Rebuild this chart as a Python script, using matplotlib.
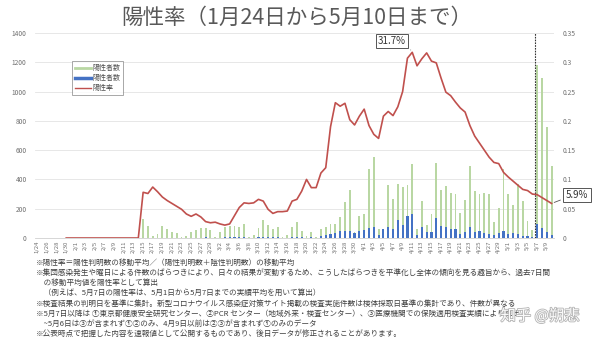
import numpy as np
import matplotlib
matplotlib.use("Agg")
import matplotlib.pyplot as plt
from matplotlib.lines import Line2D
import matplotlib.patheffects as pe
import datetime as dt

plt.rcParams['font.family'] = ['Noto Sans CJK JP', 'DejaVu Sans']

start = dt.date(2020, 1, 24)
dates = [start + dt.timedelta(days=i) for i in range(108)]
date_labels = [f"{d.month}/{d.day}" for d in dates]

# tests (green) - counts per day
tests = [0]*22 + [
    130, 80, 12, 28, 84, 62, 38, 34, 5, 16,      # 22-31
    43, 52, 66, 68, 57, 5, 38, 75, 84, 79,       # 32-41
    72, 96, 5, 23, 68, 125, 89, 61, 72, 5,       # 42-51
    23, 72, 107, 50, 12, 43, 5, 60, 75, 95,      # 52-61
    93, 145, 245, 330, 41, 148, 164, 471, 553, 64,   # 62-71
    64, 359, 268, 369, 346, 362, 503, 61, 250, 91,   # 72-81
    164, 512, 330, 357, 307, 303, 171, 262, 494, 318,  # 82-91
    303, 310, 301, 107, 207, 470, 300, 227, 370, 250,  # 92-101
    113, 55, 1183, 1093, 755, 489]                   # 102-107

# positives (blue)
positives = [0]*22 + [
    3, 2, 1, 1, 3, 2, 1, 2, 0, 1,
    2, 3, 3, 4, 3, 0, 2, 4, 5, 4,
    4, 6, 0, 2, 5, 8, 6, 4, 5, 0,
    2, 6, 10, 6, 2, 5, 0, 16, 20, 27,
    34, 50, 50, 50, 33, 50, 57, 68, 75, 20,
    61, 75, 61, 125, 91, 148, 164, 22, 72, 38,
    38, 137, 84, 72, 61, 61, 27, 40, 75, 40,
    45, 34, 27, 18, 34, 50, 27, 34, 27, 16,
    11, 8, 98, 68, 38, 23]

rate = [np.nan]*6 + [0.0]*16 + [
    0.078, 0.076, 0.087, 0.079, 0.070, 0.064, 0.059, 0.054, 0.049, 0.041,
    0.037, 0.041, 0.036, 0.028, 0.026, 0.027, 0.024, 0.022, 0.024, 0.038,
    0.052, 0.060, 0.059, 0.060, 0.066, 0.063, 0.049, 0.042, 0.045, 0.045,
    0.046, 0.063, 0.066, 0.080, 0.100, 0.086, 0.086, 0.111, 0.120, 0.190,
    0.231, 0.225, 0.230, 0.202, 0.193, 0.208, 0.220, 0.192, 0.177, 0.170,
    0.208, 0.216, 0.209, 0.224, 0.250, 0.307, 0.317, 0.294, 0.306, 0.316,
    0.302, 0.299, 0.273, 0.249, 0.243, 0.232, 0.222, 0.215, 0.192, 0.174,
    0.162, 0.150, 0.138, 0.129, 0.127, 0.112, 0.104, 0.097, 0.090, 0.083,
    0.081, 0.075, 0.074, 0.069, 0.064, 0.059]

notes = [
    "※陽性率＝陽性判明数の移動平均／（陽性判明数＋陰性判明数）の移動平均",
    "※集団感染発生や曜日による件数のばらつきにより、日々の結果が変動するため、こうしたばらつきを平準化し全体の傾向を見る趣旨から、過去7日間",
    "　の移動平均値を陽性率として算出",
    "　（例えば、5月7日の陽性率は、5月1日から5月7日までの実績平均を用いて算出）",
    "※検査結果の判明日を基準に集計。新型コロナウイルス感染症対策サイト掲載の検査実施件数は検体採取日基準の集計であり、件数が異なる",
    "※5月7日以降は ①東京都健康安全研究センター、②PCR センター（地域外来・検査センター）、③医療機関での保険適用検査実績により算出",
    "　~5月6日は③が含まれず①②のみ、4月9日以前は②③が含まれず①のみのデータ",
    "※公表時点で把握した内容を速報値として公開するものであり、後日データが修正されることがあります。",
]

W, H = 600, 337
fig = plt.figure(figsize=(W/100, H/100), dpi=100)
ax = fig.add_axes([35/W, 1-238/H, (554-35)/W, (238-33)/H])
ax2 = ax.twinx()

x = np.arange(len(dates))
ax.bar(x, tests, width=0.38, color='#b9d7a3', zorder=2)
ax.bar(x, positives, width=0.45, color='#4472c4', zorder=3)
ax2.plot(x, rate, color='#c0504d', lw=1.2, zorder=4)

ax.set_xlim(-0.5, 107.5)
ax.set_ylim(0, 1400)
ax2.set_ylim(0, 0.35)
ax.set_yticks(range(0, 1401, 200))
ax2.set_yticks([0, 0.05, 0.1, 0.15, 0.2, 0.25, 0.3, 0.35])
ax2.set_yticklabels(['0', '0.05', '0.1', '0.15', '0.2', '0.25', '0.3', '0.35'])
ax.grid(axis='y', color='#e3e3e3', lw=0.6, zorder=0)
ax.set_axisbelow(True)
for a in (ax, ax2):
    for s in a.spines.values():
        s.set_visible(False)
    a.tick_params(length=0, labelsize=4.8, colors='#707070')
ax.spines['bottom'].set_visible(True)
ax.spines['bottom'].set_color('#d0d0d0')
ax.spines['bottom'].set_linewidth(0.6)
ax.tick_params(axis='y', pad=6)
ax2.tick_params(axis='y', pad=6)

ax.set_xticks(x[::2])
ax.set_xticklabels(date_labels[::2], rotation=90, fontsize=4.3, color='#707070')
ax.tick_params(axis='x', pad=2)

# dashed vertical line
ax.axvline(103.5, color='#333333', lw=0.8, ls=(0, (1.5, 1)), zorder=5)

# annotations
bbox = dict(boxstyle='square,pad=0.25', fc='white', ec='#555555', lw=0.7)
ax2.annotate('31.7%', xy=(78, rate[78]), xycoords='data',
             xytext=(392, H-41), textcoords='figure pixels',
             fontsize=7, ha='center', va='center', bbox=bbox, color='#333333',
             arrowprops=dict(arrowstyle='-', color='#555555', lw=0.6,
                             relpos=(1.0, 0.0), connectionstyle='arc3,rad=-0.15'),
             annotation_clip=False)
ax2.annotate('5.9%', xy=(107, rate[107]), xycoords='data',
             xytext=(577, H-195), textcoords='figure pixels',
             fontsize=7, ha='center', va='center', bbox=bbox, color='#333333',
             arrowprops=dict(arrowstyle='-', color='#555555', lw=0.6,
                             relpos=(0.0, 0.2)),
             annotation_clip=False, zorder=10)

# legend
handles = [Line2D([], [], color='#b9d7a3', lw=2),
           Line2D([], [], color='#4472c4', lw=2.5),
           Line2D([], [], color='#c0504d', lw=1)]
leg = fig.legend(handles, ['陽性者数', '陽性者数', '陽性率'], loc='upper left',
                 bbox_to_anchor=(69/W, 1-58/H), fontsize=5, frameon=True,
                 fancybox=False, edgecolor='#808080', handlelength=2.2,
                 borderpad=0.4, labelspacing=0.3, handletextpad=0.3)
leg.get_frame().set_linewidth(0.6)
for t in leg.get_texts():
    t.set_color('#505050')

# title
fig.text(297/W, 1-18/H, '陽性率（1月24日から5月10日まで）', fontsize=15.5,
         ha='center', va='center', color='#595959')

# notes
y0 = 263
for i, n in enumerate(notes):
    fig.text(36/W, 1-(y0 + i*10.1)/H, n, fontsize=5.5, ha='left', va='center',
             color='#404040')

# watermark
fig.text(540/W, 1-316/H, '知乎 @朔悲', fontsize=11, ha='center', va='center',
         color='white', alpha=0.95,
         path_effects=[pe.withStroke(linewidth=1.2, foreground='#b0b0b0')])

fig.savefig('out.png', dpi=100)
